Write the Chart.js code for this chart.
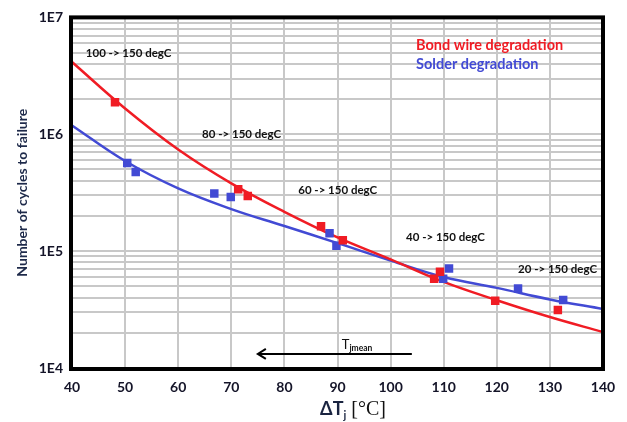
<!DOCTYPE html>
<html><head><meta charset="utf-8">
<script src="https://cdn.jsdelivr.net/npm/chart.js@4.4.1/dist/chart.umd.min.js"></script>
<style>html,body{margin:0;padding:0;background:#fff;}canvas{display:block;}</style>
</head><body>
<canvas id="c" width="627" height="422"></canvas>
<script>
// ---- data ----
const curveX = [40, 50, 60, 70, 80, 90, 100, 110, 120, 130, 140];
const bondCurve = [4.15e6, 1.66e6, 7.4e5, 3.8e5, 2.17e5, 1.31e5, 8.5e4, 5.45e4, 3.8e4, 2.73e4, 2.03e4];
const solderCurve = [1.19e6, 5.9e5, 3.44e5, 2.29e5, 1.64e5, 1.17e5, 8.3e4, 6.0e4, 4.85e4, 3.86e4, 3.2e4];
const bondX = [48.1, 71.3, 73.1, 86.9, 91.0, 108.2, 109.3, 119.7, 131.5];
const bondY = [1.88e6, 3.39e5, 2.97e5, 1.63e5, 1.24e5, 5.8e4, 6.65e4, 3.76e4, 3.13e4];
const solderX = [50.4, 52.0, 66.8, 69.9, 88.5, 89.8, 109.9, 111.0, 124.0, 132.5];
const solderY = [5.69e5, 4.76e5, 3.11e5, 2.91e5, 1.42e5, 1.11e5, 5.8e4, 7.1e4, 4.8e4, 3.81e4];
const seriesNames = ['Bond wire degradation', 'Solder degradation'];
const yDecades = [1e4, 1e5, 1e6, 1e7];
const yDecadeLabels = ['1E4', '1E5', '1E6', '1E7'];
const stepLabels = ['100 -> 150 degC', '80 -> 150 degC', '60 -> 150 degC', '40 -> 150 degC', '20 -> 150 degC'];
const yTitle = 'Number of cycles to failure';

// ---- styles / placements ----
const RED = 'rgb(240,28,36)';
const BLUE = 'rgb(66,74,212)';
const FONT = 'Lato, "Open Sans", sans-serif';
const stepPos = [[42.6, 4.9e6], [64.5, 1.0e6], [82.6, 3.3e5], [102.9, 1.32e5], [124.0, 7.0e4]];
const legendPos = [[104.8, 5.77e6], [104.8, 3.96e6]];

const yGridValues = [];
yDecades.forEach((d, i) => {
  if (i < yDecades.length - 1) { for (let m = 1; m < 10; m++) yGridValues.push(d * m); }
  else yGridValues.push(d);
});

const pts = (xs, ys) => xs.map((x, i) => ({x, y: ys[i]}));

const overlay = {
  id: 'overlay',
  afterDraw(chart) {
    const {ctx, chartArea: a, scales: {x, y}} = chart;
    ctx.save();
    // annotations
    ctx.fillStyle = '#111';
    ctx.textBaseline = 'middle';
    ctx.textAlign = 'left';
    ctx.font = 'bold 11.5px ' + FONT;
    stepLabels.forEach((t, i) => ctx.fillText(t, x.getPixelForValue(stepPos[i][0]), y.getPixelForValue(stepPos[i][1])));
    // legend
    ctx.font = 'bold 14.5px ' + FONT;
    ctx.fillStyle = RED;
    ctx.fillText(seriesNames[0], x.getPixelForValue(legendPos[0][0]), y.getPixelForValue(legendPos[0][1]));
    ctx.fillStyle = BLUE;
    ctx.fillText(seriesNames[1], x.getPixelForValue(legendPos[1][0]), y.getPixelForValue(legendPos[1][1]));
    // arrow T_jmean
    const ax0 = x.getPixelForValue(75.0), ax1 = x.getPixelForValue(104.0), ay = y.getPixelForValue(1.32e4);
    ctx.strokeStyle = '#000';
    ctx.lineWidth = 2;
    ctx.beginPath();
    ctx.moveTo(ax1, ay); ctx.lineTo(ax0, ay);
    ctx.moveTo(ax0 + 8, ay - 5); ctx.lineTo(ax0, ay); ctx.lineTo(ax0 + 8, ay + 5);
    ctx.stroke();
    ctx.fillStyle = '#111';
    ctx.textBaseline = 'alphabetic';
    ctx.font = '13px ' + FONT;
    const tx = x.getPixelForValue(90.8), ty = ay - 5;
    ctx.fillText('T', tx, ty);
    const tw = ctx.measureText('T').width;
    ctx.font = 'bold 8.5px ' + FONT;
    ctx.fillText('jmean', tx + tw, ty + 2);
    // x title
    const parts = [
      {t: 'ΔT', f: 'bold 18px ' + FONT, dy: 0, c: '#1a2440'},
      {t: 'j', f: 'bold 11px ' + FONT, dy: 4, c: '#1a2440'},
      {t: ' [°C]', f: '20px "Liberation Serif", serif', dy: 0, c: '#111'}
    ];
    let total = 0;
    parts.forEach(p => { ctx.font = p.f; p.w = ctx.measureText(p.t).width; total += p.w; });
    let cx = 353 - total / 2;
    const by = 415;
    parts.forEach(p => { ctx.font = p.f; ctx.fillStyle = p.c; ctx.fillText(p.t, cx, by + p.dy); cx += p.w; });
    // plot border
    ctx.strokeStyle = '#000';
    ctx.lineWidth = 4;
    ctx.strokeRect(a.left - 1, a.top, a.right - a.left + 1, a.bottom - a.top + 1);
    ctx.restore();
  }
};

new Chart(document.getElementById('c'), {
  type: 'scatter',
  data: {
    datasets: [
      {label: seriesNames[0] + ' points', data: pts(bondX, bondY), pointStyle: 'rect', pointRadius: 6, pointHoverRadius: 6,
       backgroundColor: RED, borderColor: RED, borderWidth: 0, order: 0},
      {label: seriesNames[1] + ' points', data: pts(solderX, solderY), pointStyle: 'rect', pointRadius: 6, pointHoverRadius: 6,
       backgroundColor: BLUE, borderColor: BLUE, borderWidth: 0, order: 0},
      {label: seriesNames[0], data: pts(curveX, bondCurve), showLine: true, pointRadius: 0, borderColor: RED, borderWidth: 2.5,
       tension: 0.4, order: 1},
      {label: seriesNames[1], data: pts(curveX, solderCurve), showLine: true, pointRadius: 0, borderColor: BLUE, borderWidth: 2.5,
       tension: 0.4, order: 1}
    ]
  },
  options: {
    responsive: false,
    animation: false,
    devicePixelRatio: 1,
    layout: {padding: {left: 0, top: 17, right: 24, bottom: 0}},
    plugins: {legend: {display: false}, tooltip: {enabled: false}},
    scales: {
      x: {
        type: 'linear', min: 40, max: 140,
        ticks: {stepSize: 10, padding: 11, color: '#141428', font: {family: FONT, size: 14, weight: 'bold'}},
        grid: {color: '#c8c8c8', lineWidth: 2, drawTicks: false},
        border: {display: false},
        afterFit(s) { s.height = 54; }
      },
      y: {
        type: 'logarithmic', min: 1e4, max: 1e7,
        afterBuildTicks(s) { s.ticks = yGridValues.map(v => ({value: v})); },
        ticks: {
          autoSkip: false, padding: 9, color: '#141428', font: {family: FONT, size: 14, weight: 'bold'},
          callback(v) { const i = yDecades.indexOf(v); return i >= 0 ? yDecadeLabels[i] : ''; }
        },
        grid: {color: '#c8c8c8', lineWidth: 2, drawTicks: false},
        border: {display: false},
        title: {display: true, text: yTitle, color: '#1e2a4a', font: {family: FONT, size: 14, weight: 'bold'}, padding: {top: 14, bottom: 0}},
        afterFit(s) { s.width = 72; }
      }
    }
  },
  plugins: [overlay]
});
</script>
</body></html>
